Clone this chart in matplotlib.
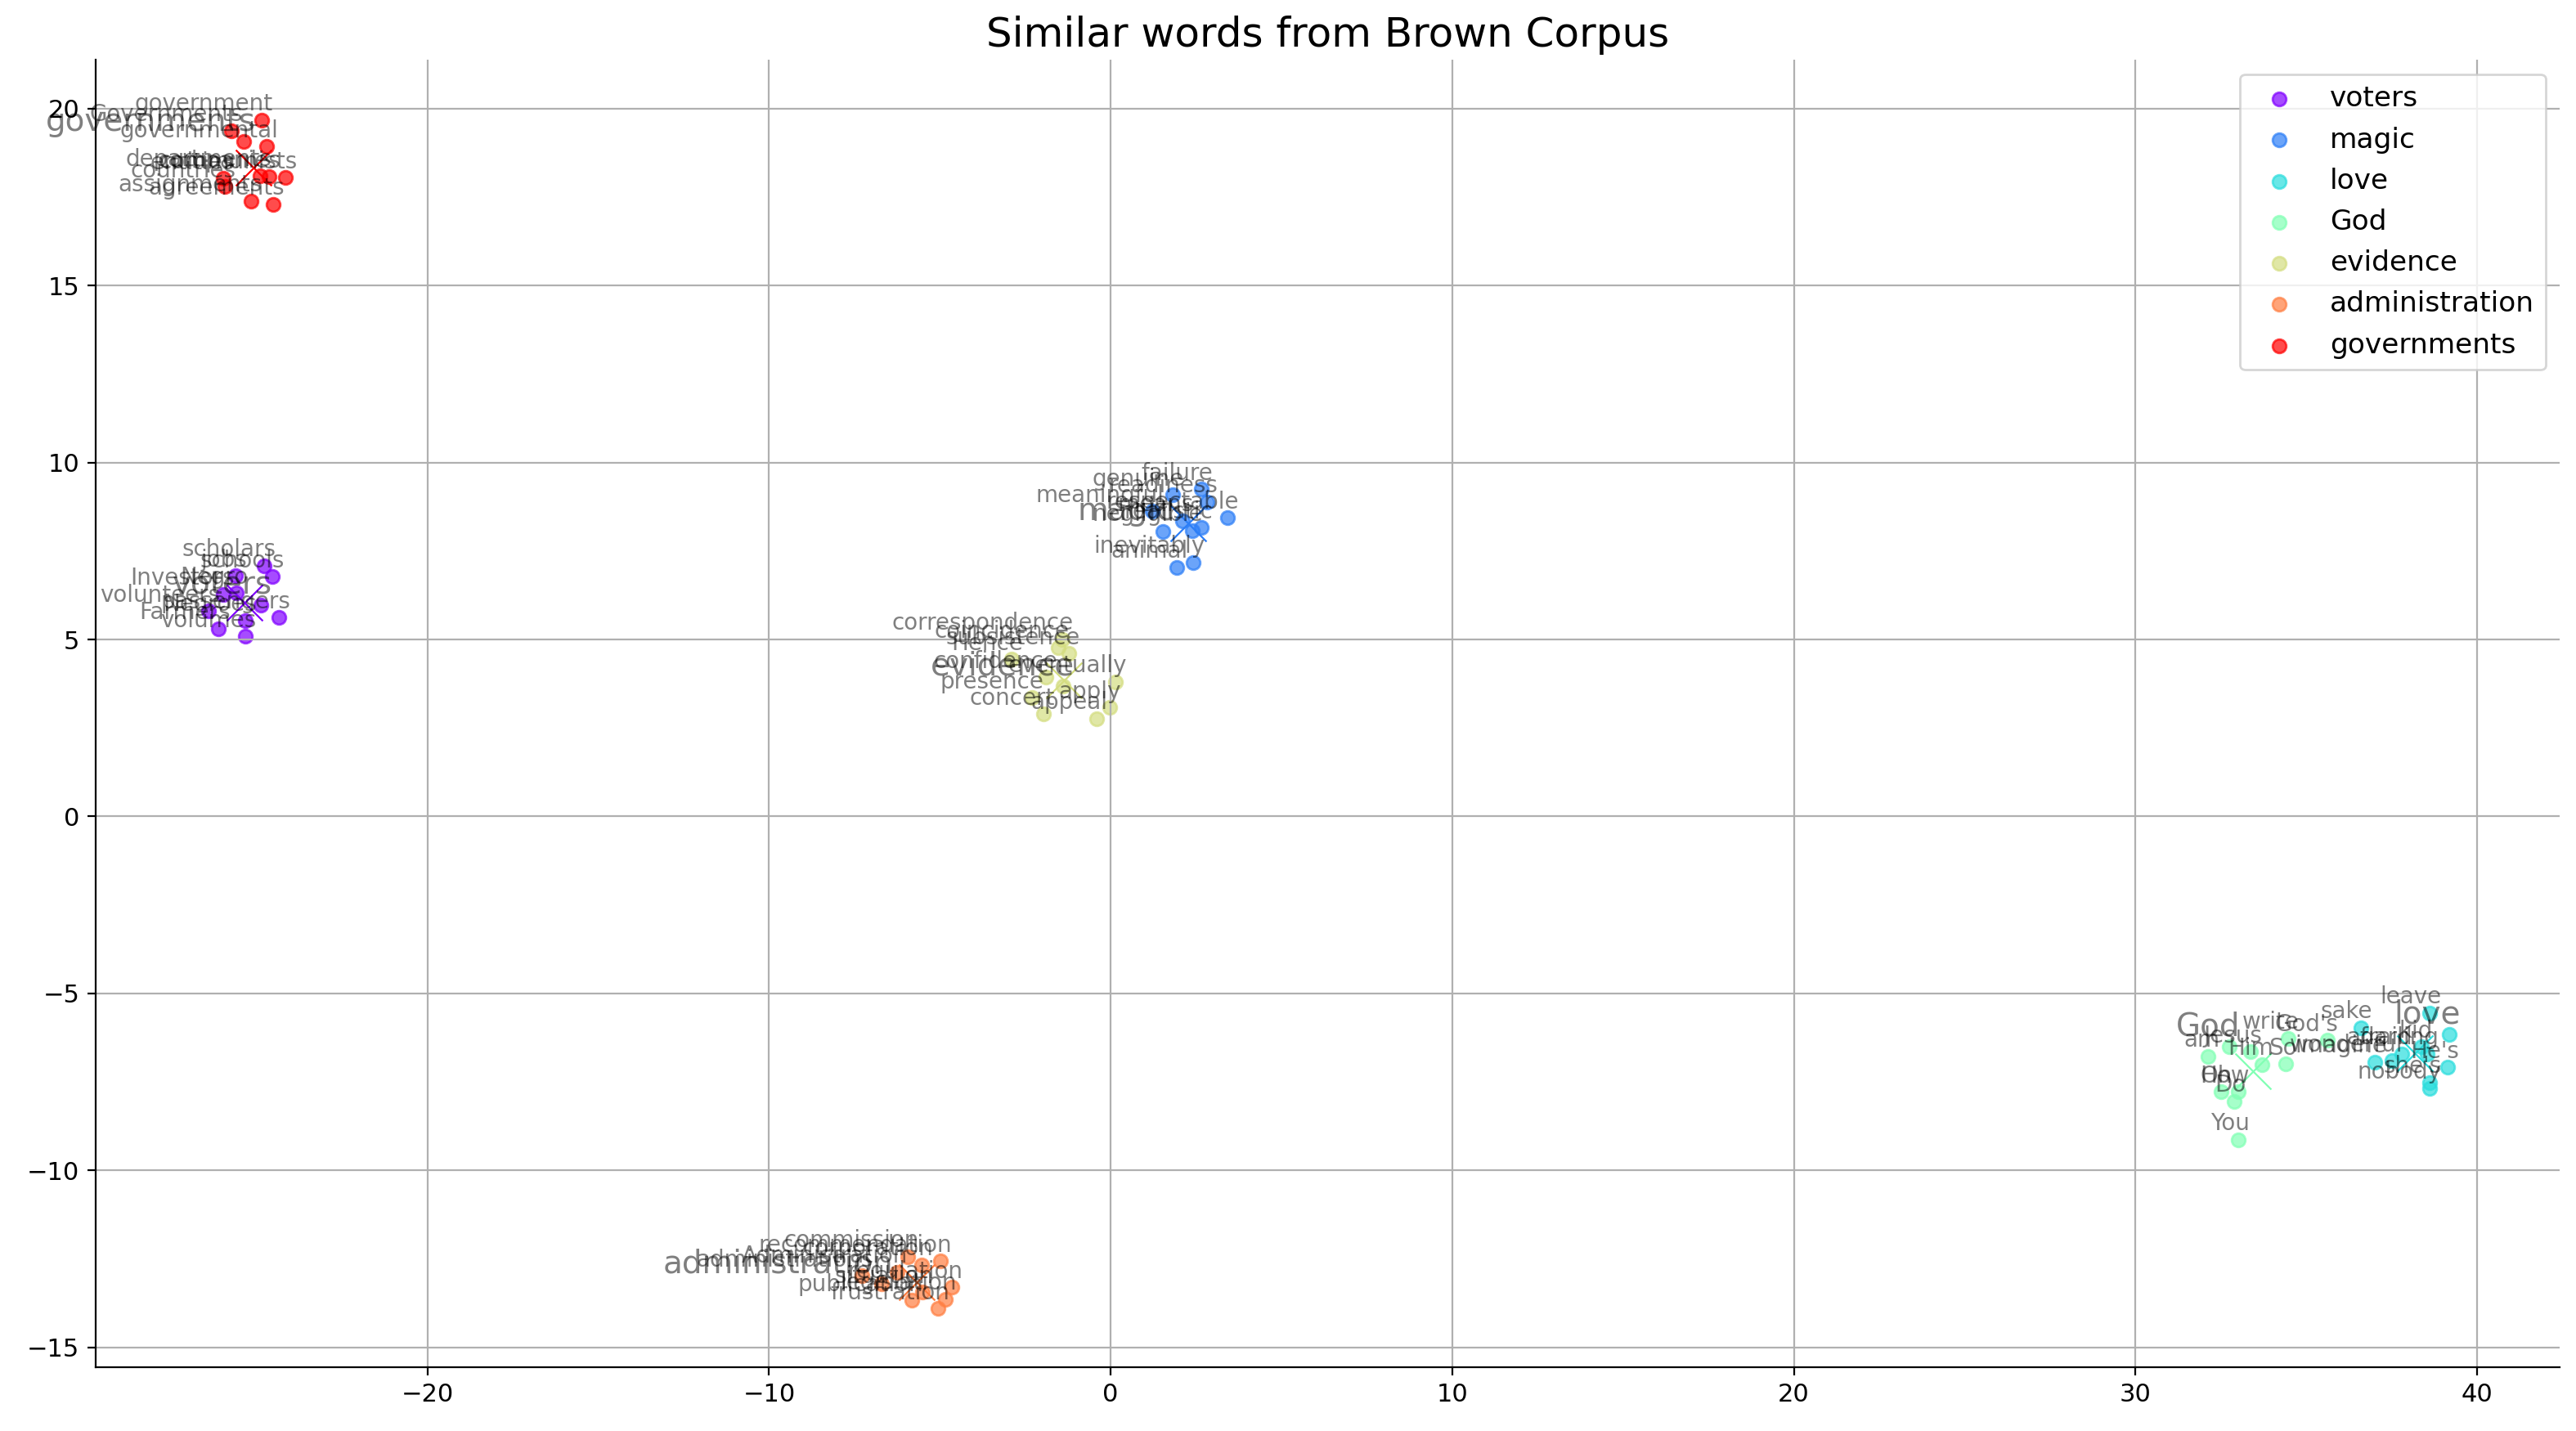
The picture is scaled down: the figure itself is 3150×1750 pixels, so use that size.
import numpy as np
import matplotlib
matplotlib.use('Agg')
import matplotlib.pyplot as plt
import matplotlib.cm as cm

keys = ['voters', 'magic', 'love', 'God', 'evidence', 'administration', 'governments']

voters_words = ['scholars', 'schools', 'jobs', 'Negro', 'Investors', 'voters',
                'volunteers', 'passengers', 'Negroes', 'Farmers', 'volumes']
voters_x = [-24.77, -24.53, -25.61, -25.59, -25.97, -24.87, -26.41, -24.35, -25.34, -26.11, -25.34]
voters_y = [7.08, 6.77, 6.80, 6.31, 6.27, 5.96, 5.80, 5.62, 5.54, 5.31, 5.09]

magic_words = ['failure', 'genuine', 'readiness', 'respectable', 'meaningful', 'means',
               'realistic', 'negligible', 'magic', 'inevitably', 'animal']
magic_x = [2.66, 1.82, 2.82, 3.42, 1.22, 2.10, 2.66, 2.38, 1.54, 2.42, 1.94]
magic_y = [9.24, 9.08, 8.89, 8.44, 8.62, 8.35, 8.16, 8.08, 8.06, 7.18, 7.04]

love_words = ['leave', 'sake', 'love', 'kid', 'afraid', 'darling',
              'imagine', 'wonderful', "He's", "she's", 'nobody']
love_x = [38.62, 36.61, 39.18, 38.38, 37.79, 38.55, 37.01, 37.51, 39.14, 38.62, 38.62]
love_y = [-5.55, -5.96, -6.16, -6.51, -6.70, -6.70, -6.93, -6.90, -7.09, -7.51, -7.67]

god_words = ['write', "God's", 'God', 'Jesus', 'am', 'Him', 'So', 'Oh', 'How', 'Do', 'You']
god_x = [34.47, 35.61, 32.74, 33.37, 32.13, 33.71, 34.39, 32.52, 33.02, 32.90, 33.02]
god_y = [-6.26, -6.32, -6.51, -6.65, -6.78, -7.01, -6.99, -7.78, -7.78, -8.05, -9.13]

evidence_words = ['correspondence', 'coincidence', 'subsistence', 'Hence', 'confidence',
                  'eventually', 'evidence', 'presence', 'apply', 'concert', 'appeal']
evidence_x = [-1.42, -1.54, -1.23, -2.89, -1.89, 0.14, -1.38, -2.29, -0.03, -1.97, -0.42]
evidence_y = [5.00, 4.77, 4.60, 4.44, 3.93, 3.81, 3.69, 3.35, 3.08, 2.89, 2.77]

admin_words = ['commission', 'recommendation', 'corporation', 'Administration',
               'administrations', 'administration', 'regulation', 'situation',
               'publication', 'legislation', 'frustration']
admin_x = [-5.93, -4.98, -5.53, -6.26, -7.28, -6.70, -4.65, -5.51, -5.82, -4.85, -5.05]
admin_y = [-12.43, -12.56, -12.66, -12.87, -12.98, -13.21, -13.30, -13.44, -13.67, -13.63, -13.90]

gov_words = ['government', 'Governments', 'governments', 'governmental', 'entities',
             'departments', 'companies', 'communists', 'countries', 'assignments', 'agreements']
gov_x = [-24.86, -25.74, -25.37, -24.70, -25.97, -24.89, -24.63, -24.15, -25.93, -25.17, -24.51]
gov_y = [19.67, 19.37, 19.06, 18.92, 18.02, 18.10, 18.07, 18.04, 17.79, 17.38, 17.30]

word_clusters = [voters_words, magic_words, love_words, god_words,
                 evidence_words, admin_words, gov_words]
x_clusters = [voters_x, magic_x, love_x, god_x, evidence_x, admin_x, gov_x]
y_clusters = [voters_y, magic_y, love_y, god_y, evidence_y, admin_y, gov_y]

fig = plt.figure(figsize=(15.75, 8.75), dpi=200)
ax = fig.add_axes([0.03705, 0.04474, 0.9566, 0.91337])
colors = cm.rainbow(np.linspace(0, 1, len(keys)))

for key, words, xs, ys, color in zip(keys, word_clusters, x_clusters, y_clusters, colors):
    x = np.array(xs)
    y = np.array(ys)
    ax.scatter(x, y, color=color, alpha=0.7, label=key)
    for i, word in enumerate(words):
        ax.annotate(word, xy=(x[i], y[i]), xytext=(5, 2), textcoords='offset points',
                    ha='right', va='bottom', alpha=0.5, size=14 if word == key else 10)
    # centre of the cluster
    ax.scatter(x.mean(), y.mean(), color=color, marker='x', s=250, linewidths=0.8)

ax.set_xlim(-29.72, 42.42)
ax.set_ylim(-15.55, 21.37)
ax.tick_params(labelsize=11)
ax.spines['top'].set_visible(False)
ax.spines['right'].set_visible(False)
ax.grid(True)
ax.legend(loc='upper right', fontsize=12.4)
ax.set_title('Similar words from Brown Corpus', fontsize=18)

fig.savefig('out.png', dpi=200)
